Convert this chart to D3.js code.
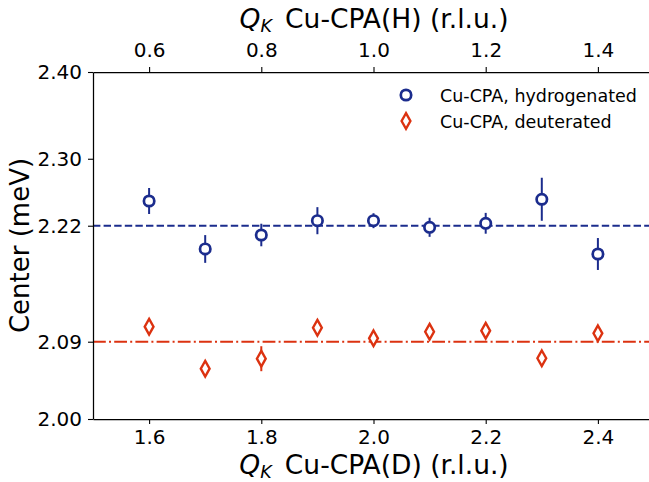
<!DOCTYPE html>
<html><head><meta charset="utf-8">
<script src="https://cdn.jsdelivr.net/npm/d3@7"></script>
<style>
html,body{margin:0;padding:0;background:#fff;}
svg{display:block;font-family:"DejaVu Sans",sans-serif;}
</style></head>
<body><svg id="c" width="649" height="482"></svg>
<script>
const qD = [1.6, 1.7, 1.8, 1.9, 2.0, 2.1, 2.2, 2.3, 2.4];
const hydroCenter = [2.2513, 2.1960, 2.2121, 2.2286, 2.2286, 2.2210, 2.2256, 2.2533, 2.1902];
const hydroErr    = [0.015, 0.016, 0.013, 0.0156, 0.0086, 0.011, 0.012, 0.0248, 0.0184];
const deutCenter  = [2.1064, 2.0580, 2.0695, 2.1052, 2.0930, 2.1006, 2.1018, 2.0700, 2.0988];
const deutErr     = [0.006, 0.006, 0.0144, 0.006, 0.006, 0.006, 0.006, 0.007, 0.007];
const hydroMean = 2.2228;
const deutMean = 2.0891;
const yTickValues = [2.00, deutMean, hydroMean, 2.30, 2.40];
const yTickLabels = ["2.00", "2.09", "2.22", "2.30", "2.40"];
const bottomTicks = [1.6, 1.8, 2.0, 2.2, 2.4];
const topTicks = [0.6, 0.8, 1.0, 1.2, 1.4];
const legendLabels = ["Cu-CPA, hydrogenated", "Cu-CPA, deuterated"];

const blue = "#1b2c8d", red = "#dc3210";
const L = 93, R = 654, T = 72, B = 419;
const svg = d3.select("#c");
const x = d3.scaleLinear().domain([1.5, 2.5]).range([L, R]);
const xTop = d3.scaleLinear().domain([0.5, 1.5]).range([L, R]);
const y = d3.scaleLinear().domain([2.0, 2.4]).range([B, T]);

// reference lines
svg.append("line").attr("x1", L).attr("x2", R).attr("y1", y(hydroMean)).attr("y2", y(hydroMean))
  .attr("stroke", blue).attr("stroke-width", 2).attr("stroke-dasharray", "7.4,3.2");
svg.append("line").attr("x1", L).attr("x2", R).attr("y1", y(deutMean)).attr("y2", y(deutMean))
  .attr("stroke", red).attr("stroke-width", 2).attr("stroke-dasharray", "12.8,3.2,2,3.2");

// axes
function styleAxis(g){
  g.selectAll("path.domain").attr("stroke", "#000").attr("stroke-width", 1.25);
  g.selectAll(".tick line").attr("stroke", "#000").attr("stroke-width", 1.1);
  g.selectAll(".tick text").attr("fill", "#000").style("font-size", "20px").style("font-family", "DejaVu Sans");
}
const gb = svg.append("g").attr("transform", `translate(0,${B})`)
  .call(d3.axisBottom(x).tickValues(bottomTicks).tickFormat(d3.format(".1f")).tickSize(5).tickPadding(6).tickSizeOuter(0));
styleAxis(gb);
const gt = svg.append("g").attr("transform", `translate(0,${T})`)
  .call(d3.axisTop(xTop).tickValues(topTicks).tickFormat(d3.format(".1f")).tickSize(5).tickPadding(10).tickSizeOuter(0));
styleAxis(gt);
const gl = svg.append("g").attr("transform", `translate(${L},0)`)
  .call(d3.axisLeft(y).tickValues(yTickValues).tickFormat((d, i) => yTickLabels[i]).tickSize(5).tickPadding(6).tickSizeOuter(0));
styleAxis(gl);

// error bars + markers: hydrogenated
const gh = svg.append("g");
qD.forEach((q, i) => {
  gh.append("line").attr("x1", x(q)).attr("x2", x(q))
    .attr("y1", y(hydroCenter[i] - hydroErr[i])).attr("y2", y(hydroCenter[i] + hydroErr[i]))
    .attr("stroke", blue).attr("stroke-width", 2);
});
gh.selectAll("circle").data(qD).join("circle")
  .attr("cx", d => x(d)).attr("cy", (d, i) => y(hydroCenter[i])).attr("r", 5.2)
  .attr("fill", "#fff").attr("stroke", blue).attr("stroke-width", 2.7);

// deuterated
const diamond = (cx, cy, w, h) => `M${cx},${cy - h}L${cx + w},${cy}L${cx},${cy + h}L${cx - w},${cy}Z`;
const gd = svg.append("g");
qD.forEach((q, i) => {
  gd.append("line").attr("x1", x(q)).attr("x2", x(q))
    .attr("y1", y(deutCenter[i] - deutErr[i])).attr("y2", y(deutCenter[i] + deutErr[i]))
    .attr("stroke", red).attr("stroke-width", 2);
});
gd.selectAll("path").data(qD).join("path")
  .attr("d", (d, i) => diamond(x(d), y(deutCenter[i]), 4.4, 7.8))
  .attr("fill", "#fff").attr("stroke", red).attr("stroke-width", 2.4);

// axis titles
function qTitle(cx, cy, rest){
  const t = svg.append("text").attr("x", cx).attr("y", cy).attr("text-anchor", "middle")
    .style("font-size", "26.5px").attr("fill", "#000");
  t.append("tspan").style("font-style", "italic").text("Q");
  t.append("tspan").style("font-style", "italic").style("font-size", "17.5px").attr("dy", 3.5).text("K");
  t.append("tspan").attr("dy", -3.5).text("\u2002" + rest);
}
qTitle(374, 28, "Cu-CPA(H) (r.l.u.)");
qTitle(374, 474, "Cu-CPA(D) (r.l.u.)");
svg.append("text").attr("transform", `translate(29,${(T + B) / 2}) rotate(-90)`)
  .attr("text-anchor", "middle").style("font-size", "26px").attr("fill", "#000").text("Center (meV)");

// legend
const lg = svg.append("g");
lg.append("circle").attr("cx", 406).attr("cy", 95).attr("r", 5.2).attr("fill", "#fff").attr("stroke", blue).attr("stroke-width", 2.7);
lg.append("path").attr("d", diamond(406, 121, 4.4, 7.8)).attr("fill", "#fff").attr("stroke", red).attr("stroke-width", 2.4);
legendLabels.forEach((s, i) => {
  lg.append("text").attr("x", 440).attr("y", 96 + i * 26).attr("dy", "0.35em")
    .style("font-size", "17.5px").attr("fill", "#000").text(s);
});
</script></body></html>
